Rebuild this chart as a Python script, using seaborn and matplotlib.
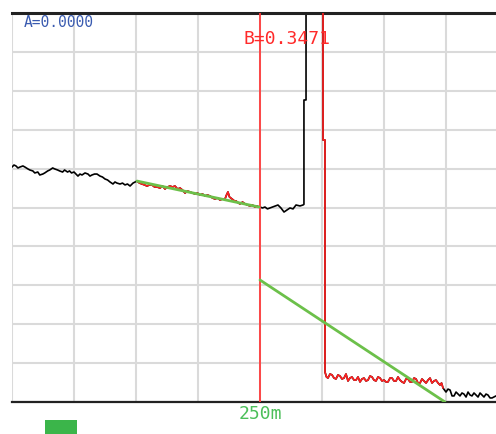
import matplotlib
matplotlib.use('Agg')
import matplotlib.pyplot as plt
import seaborn as sns
import numpy as np
import pandas as pd
from matplotlib.patches import Rectangle

# OTDR trace, distance in m, level in dB
dist_left = [0, 2, 4, 6, 8, 11, 13, 16, 18, 21, 23, 26, 28, 31, 33, 36, 38, 41, 43,
             46, 48, 51, 53, 56, 58, 60, 62.5, 64.5, 66.5, 68.5, 70.6, 73.6, 76.6,
             78.6, 80.6, 83.2, 85.7, 88.7, 91.2, 93.8, 96.3, 98.8, 101.8, 103.8,
             105.8, 108.9, 111.4, 113.9, 116.4, 119, 122]
level_left = [15.10, 15.23, 15.17, 15.04, 15.10, 15.17, 15.10, 14.98, 14.91, 14.85,
              14.72, 14.78, 14.59, 14.65, 14.72, 14.85, 14.91, 15.04, 14.98, 14.91,
              14.85, 14.78, 14.91, 14.78, 14.85, 14.72, 14.78, 14.65, 14.52, 14.65,
              14.59, 14.72, 14.65, 14.52, 14.59, 14.65, 14.65, 14.52, 14.46, 14.33,
              14.27, 14.14, 14.01, 14.14, 14.07, 14.01, 14.07, 13.95, 14.01, 13.88, 14.07]

dist_sec1 = [126, 128.5, 131.1, 133.6, 136.1, 138.6, 141.1, 143.7, 146.2, 149.2,
             151.7, 154.2, 156.8, 159.3, 161.8, 164.3, 166.9, 169.4, 171.9, 174.4,
             176.9, 179.4, 182, 184.5, 187, 189.5, 192, 194.6, 197.1, 199.6, 202.1,
             204.6, 207.2, 209.7, 212.2, 214.7, 216.2, 217.7, 219.2, 221.8, 224.3,
             225.8, 228.3, 229.8, 232.4, 234.9, 237.4, 239.9, 242.4, 244.9, 247, 249]
level_sec1 = [14.20, 14.07, 14.01, 13.95, 13.88, 13.95, 13.95, 13.82, 13.82, 13.75,
              13.88, 13.69, 13.82, 13.88, 13.82, 13.88, 13.69, 13.75, 13.62, 13.43,
              13.56, 13.50, 13.43, 13.37, 13.43, 13.30, 13.37, 13.24, 13.30, 13.24,
              13.11, 13.05, 13.11, 12.98, 13.05, 13.05, 13.30, 13.50, 13.18, 13.05,
              12.92, 12.92, 12.79, 12.73, 12.85, 12.73, 12.66, 12.60, 12.66, 12.53,
              12.60, 12.53]

dist_mid = [250, 252.5, 255, 257.5, 260, 262.5, 265.1, 268.1, 271.1, 274.2, 277.2,
            280.2, 283.3, 286.3, 290.3, 293.3, 294.3, 294.3, 296.4, 296.4]
level_mid = [12.53, 12.47, 12.53, 12.41, 12.47, 12.53, 12.60, 12.66, 12.47, 12.21,
             12.34, 12.47, 12.41, 12.66, 12.60, 12.66, 12.70, 19.41, 19.41, 25.0]

dist_sec2 = [313.5, 313.5, 315.5, 315.5, 317, 318.5, 320.6, 322.6, 324.6, 326.6,
             328.6, 330.6, 332.7, 334.7, 336.7, 338.7, 340.7, 342.7, 344.8, 346.8,
             348.8, 350.8, 352.8, 354.8, 356.9, 358.9, 360.9, 362.9, 364.9, 366.9,
             369, 371, 373, 375, 377, 379, 381.1, 383.1, 385.1, 387.1, 389.1, 391.1,
             393.2, 395.2, 397.2, 399.2, 401.2, 403.2, 405.3, 407.3, 409.3, 411.3,
             413.3, 415.3, 417.4, 419.4, 421.4, 423.4, 425.4, 427.4, 429.5, 431.5,
             433, 434.5]
level_sec2 = [25.0, 16.84, 16.84, 1.93, 1.61, 1.54, 1.80, 1.74, 1.54, 1.48, 1.74,
              1.67, 1.48, 1.54, 1.80, 1.35, 1.54, 1.61, 1.41, 1.41, 1.61, 1.29, 1.48,
              1.54, 1.35, 1.41, 1.67, 1.61, 1.41, 1.35, 1.61, 1.54, 1.35, 1.41, 1.29,
              1.29, 1.54, 1.54, 1.35, 1.35, 1.61, 1.41, 1.29, 1.22, 1.48, 1.48, 1.29,
              1.29, 1.54, 1.48, 1.22, 1.22, 1.48, 1.35, 1.22, 1.41, 1.54, 1.22, 1.35,
              1.41, 1.22, 1.09, 1.22, 0.90]

dist_tail = [436, 437.5, 439.5, 441.6, 443.6, 445.6, 447.6, 449.6, 451.6, 453.6,
             455.6, 457.7, 459.7, 461.7, 463.7, 465.7, 467.7, 469.8, 471.8, 473.8,
             475.8, 477.8, 479.8, 481.9, 483.9, 487.9]
level_tail = [0.77, 0.64, 0.83, 0.77, 0.39, 0.39, 0.64, 0.51, 0.39, 0.58, 0.51,
              0.32, 0.64, 0.45, 0.39, 0.58, 0.45, 0.32, 0.58, 0.45, 0.32, 0.51, 0.45,
              0.26, 0.26, 0.39]

# two-point fits (LSA lines)
fit1_dist = [126, 249]
fit1_level = [14.20, 12.53]
fit2_dist = [250, 436.5]
fit2_level = [7.84, 0.0]

cursor_b = 250
label_a = 'A=0.0000'
label_b = 'B=0.3471'
x_ticks = [0, 62.5, 125, 187.5, 250, 312.5, 375, 437.5]
x_ticklabels = ['', '', '', '', '250m', '', '', '']

sns.set_style('white')
plt.rcParams['font.family'] = ['DejaVu Sans Mono', 'DejaVu Sans']

fig = plt.figure(figsize=(4.96, 4.34), dpi=100)
ax = fig.add_axes([12 / 496, 32 / 434, 484 / 496, 389 / 434])

full = pd.DataFrame({
    'dist': dist_left + dist_sec1 + dist_mid + dist_sec2 + dist_tail,
    'level': level_left + level_sec1 + level_mid + level_sec2 + level_tail,
})
sec1 = pd.DataFrame({'dist': dist_sec1, 'level': level_sec1})
sec2 = pd.DataFrame({'dist': dist_sec2, 'level': level_sec2})

sns.lineplot(data=full, x='dist', y='level', ax=ax, color='black', lw=1.2,
             sort=False, estimator=None, zorder=2)
ax.axvline(cursor_b, color='#ff3b3b', lw=1.3, zorder=3)
sns.lineplot(data=sec1, x='dist', y='level', ax=ax, color='#ff2020', lw=1.2,
             sort=False, estimator=None, zorder=3)
sns.lineplot(data=sec2, x='dist', y='level', ax=ax, color='#ff2020', lw=1.2,
             sort=False, estimator=None, zorder=3)
sns.lineplot(x=fit1_dist, y=fit1_level, ax=ax, color='#6cc04a', lw=2.0,
             estimator=None, zorder=4)
sns.lineplot(x=fit2_dist, y=fit2_level, ax=ax, color='#6cc04a', lw=2.0,
             estimator=None, zorder=4)

ax.set_xlim(0, 487.9)
ax.set_ylim(0, 25)
ax.set_xticks(x_ticks)
ax.set_xticklabels(x_ticklabels, color='#4cbf5a', fontsize=13)
ax.set_yticks(np.arange(0, 25.1, 2.5))
ax.set_yticklabels([])
ax.tick_params(axis='both', length=0, pad=2)
ax.grid(True, color='#dadada', lw=1.5, zorder=0)
ax.set_axisbelow(True)
ax.set_xlabel('')
ax.set_ylabel('')

for side in ['left', 'right']:
    ax.spines[side].set_visible(False)
ax.spines['top'].set_color('#222222')
ax.spines['top'].set_linewidth(2.2)
ax.spines['bottom'].set_color('#222222')
ax.spines['bottom'].set_linewidth(1.6)

ax.text(12.1, 24.42, label_a, color='#3a5bb0', fontsize=10.5, ha='left', va='center')
ax.text(232.9, 23.33, label_b, color='#ff2a2a', fontsize=13, ha='left', va='center')

fig.patches.append(Rectangle((45 / 496, 0), 32 / 496, 14 / 434, transform=fig.transFigure,
                             facecolor='#3bb54a', edgecolor='none'))

fig.savefig('out.png', dpi=100)
